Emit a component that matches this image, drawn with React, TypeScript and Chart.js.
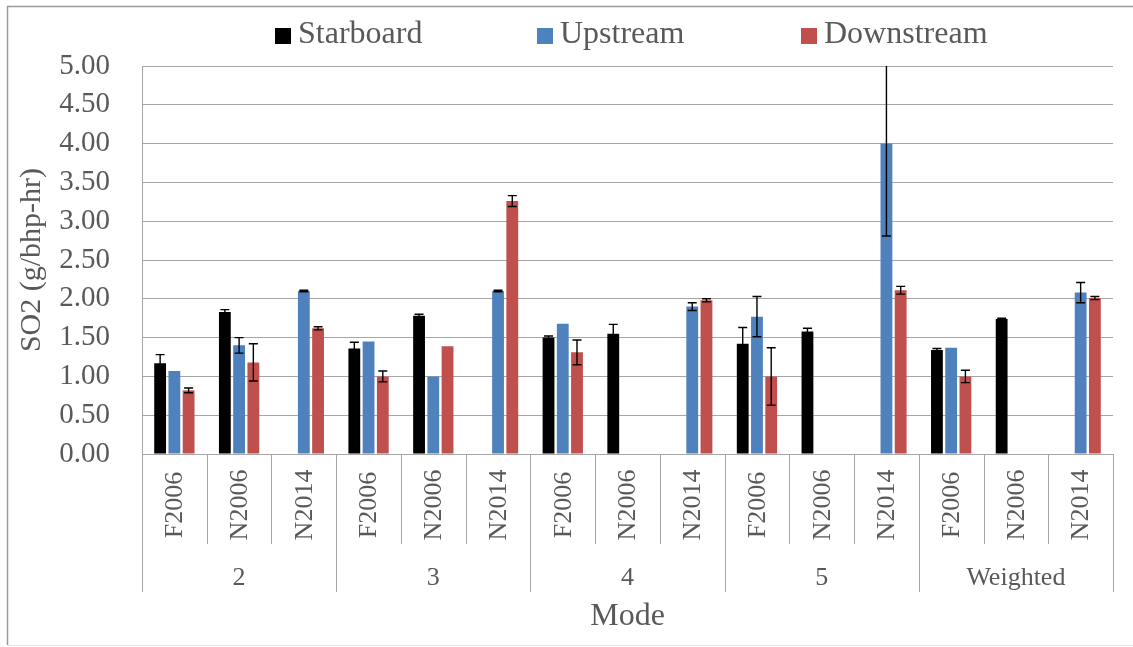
import React, { useEffect, useRef } from "react";
import { Chart, registerables } from "chart.js";

Chart.register(...registerables);

const groups = ["2", "3", "4", "5", "Weighted"];
const subCategories = ["F2006", "N2006", "N2014"];
const categories = groups.flatMap((g) => subCategories.map((s) => `${g} ${s}`));
const tickLabels = ["0.00", "0.50", "1.00", "1.50", "2.00", "2.50", "3.00", "3.50", "4.00", "4.50", "5.00"];

const seriesNames = ["Starboard", "Upstream", "Downstream"];
const seriesColors = ["#000000", "#4F81BD", "#C0504D"];

const starboard = [1.17, 1.83, null, 1.36, 1.78, null, 1.5, 1.55, null, 1.42, 1.58, null, 1.34, 1.74, null];
const upstream = [1.07, 1.4, 2.1, 1.45, 1.0, 2.1, 1.68, null, 1.9, 1.77, null, 4.0, 1.37, null, 2.08];
const downstream = [0.82, 1.18, 1.62, 1.0, 1.39, 3.26, 1.31, null, 1.98, 1.0, null, 2.11, 1.0, null, 2.01];

const starboardErr = [0.11, 0.03, null, 0.08, 0.02, null, 0.02, 0.12, null, 0.21, 0.04, null, 0.02, 0.01, null];
const upstreamErr = [0, 0.1, 0.01, 0, 0, 0.01, 0, null, 0.05, 0.26, null, 1.19, 0, null, 0.13];
const downstreamErr = [0.03, 0.24, 0.02, 0.07, 0, 0.07, 0.16, null, 0.02, 0.37, null, 0.05, 0.08, null, 0.02];

const FONT = "'Liberation Serif', 'Times New Roman', serif";
const TEXT = "#595959";
const GRID = "#a6a6a6";

const errorBarsPlugin = {
  id: "errorBars",
  afterDatasetsDraw(chart: any) {
    const { ctx, chartArea, scales } = chart;
    const yScale = scales.y;
    const errs = [starboardErr, upstreamErr, downstreamErr];
    ctx.save();
    ctx.beginPath();
    ctx.rect(chartArea.left, chartArea.top, chartArea.right - chartArea.left, chartArea.bottom - chartArea.top);
    ctx.clip();
    ctx.strokeStyle = "#000000";
    ctx.lineWidth = 1.4;
    chart.data.datasets.forEach((ds: any, di: number) => {
      const meta = chart.getDatasetMeta(di);
      meta.data.forEach((el: any, i: number) => {
        const v = ds.data[i];
        const e = errs[di][i];
        if (v == null || e == null || e <= 0) return;
        const x = el.x;
        const yTop = yScale.getPixelForValue(v + e);
        const yBot = yScale.getPixelForValue(v - e);
        const cap = 4.5;
        ctx.beginPath();
        ctx.moveTo(x, yTop);
        ctx.lineTo(x, yBot);
        ctx.moveTo(x - cap, yTop);
        ctx.lineTo(x + cap, yTop);
        ctx.moveTo(x - cap, yBot);
        ctx.lineTo(x + cap, yBot);
        ctx.stroke();
      });
    });
    ctx.restore();
  },
};

const decorPlugin = {
  id: "decor",
  beforeDraw(chart: any) {
    const { ctx, width, height } = chart;
    ctx.save();
    ctx.fillStyle = "#ffffff";
    ctx.fillRect(0, 0, width, height);
    ctx.strokeStyle = "#9a9a9a";
    ctx.lineWidth = 1.5;
    ctx.beginPath();
    ctx.moveTo(7.5, 645);
    ctx.lineTo(7.5, 6.5);
    ctx.lineTo(width + 5, 6.5);
    ctx.stroke();
    ctx.strokeStyle = "#e6e6e6";
    ctx.lineWidth = 1;
    ctx.beginPath();
    ctx.moveTo(7.5, 645.5);
    ctx.lineTo(width, 645.5);
    ctx.stroke();
    ctx.restore();
  },
  afterDraw(chart: any) {
    const { ctx, chartArea, scales } = chart;
    const xScale = scales.x;
    const n = categories.length;
    const w = (chartArea.right - chartArea.left) / n;
    ctx.save();
    // separators
    ctx.strokeStyle = GRID;
    ctx.lineWidth = 1;
    for (let b = 0; b <= n; b++) {
      const x = Math.round(chartArea.left + b * w) + 0.5;
      ctx.beginPath();
      ctx.moveTo(x, chartArea.bottom);
      ctx.lineTo(x, b % 3 === 0 ? 592 : 544);
      ctx.stroke();
    }
    // category labels
    ctx.fillStyle = TEXT;
    ctx.font = `26px ${FONT}`;
    ctx.textAlign = "center";
    ctx.textBaseline = "middle";
    categories.forEach((_, i) => {
      const x = xScale.getPixelForValue(i);
      ctx.save();
      ctx.translate(x + 1, 505);
      ctx.rotate(-Math.PI / 2);
      ctx.fillText(subCategories[i % 3], 0, 0);
      ctx.restore();
    });
    // group labels
    groups.forEach((g, gi) => {
      const x = (xScale.getPixelForValue(gi * 3) + xScale.getPixelForValue(gi * 3 + 2)) / 2;
      ctx.fillText(g, x, 578);
    });
    // axis title
    ctx.font = `32px ${FONT}`;
    ctx.fillText("Mode", (chartArea.left + chartArea.right) / 2, 617);
    // legend
    const legendX = [275, 537, 801];
    ctx.font = `32px ${FONT}`;
    ctx.textAlign = "left";
    seriesNames.forEach((name, i) => {
      ctx.fillStyle = seriesColors[i];
      ctx.fillRect(legendX[i], 28, 16, 16);
      ctx.fillStyle = TEXT;
      ctx.fillText(name, legendX[i] + 23, 35);
    });
    ctx.restore();
  },
};

export default function App() {
  const canvasRef = useRef<HTMLCanvasElement | null>(null);

  useEffect(() => {
    if (!canvasRef.current) return;
    const datasets = [starboard, upstream, downstream].map((d, i) => ({
      label: seriesNames[i],
      data: d,
      backgroundColor: seriesColors[i],
      borderWidth: 0,
      categoryPercentage: 0.66,
      barPercentage: 0.83,
    }));
    const chart = new Chart(canvasRef.current, {
      type: "bar",
      data: { labels: categories, datasets },
      options: {
        responsive: false,
        animation: false,
        devicePixelRatio: 1,
        layout: { padding: { top: 66, right: 20, bottom: 193, left: 0 } },
        plugins: { legend: { display: false }, tooltip: { enabled: false } },
        scales: {
          x: { type: "category", display: false, offset: true },
          y: {
            min: 0,
            max: 5,
            afterFit(scale: any) {
              scale.width = 142;
            },
            ticks: {
              stepSize: 0.5,
              padding: 32,
              color: TEXT,
              font: { family: FONT, size: 29 },
              callback: (v: any) => tickLabels[Math.round(Number(v) * 2)] ?? Number(v).toFixed(2),
            },
            grid: { color: GRID, drawTicks: false, lineWidth: 1 },
            border: { display: true, color: GRID, width: 1 },
            title: {
              display: true,
              text: "SO2 (g/bhp-hr)",
              color: TEXT,
              font: { family: FONT, size: 30 },
              padding: { top: 14, bottom: 0 },
            },
          },
        },
      },
      plugins: [decorPlugin, errorBarsPlugin],
    } as any);
    return () => chart.destroy();
  }, []);

  return (
    <div style={{ position: "fixed", left: 0, top: 0, width: 1133, height: 647, background: "#fff" }}>
      <canvas ref={canvasRef} width={1133} height={647} />
    </div>
  );
}
